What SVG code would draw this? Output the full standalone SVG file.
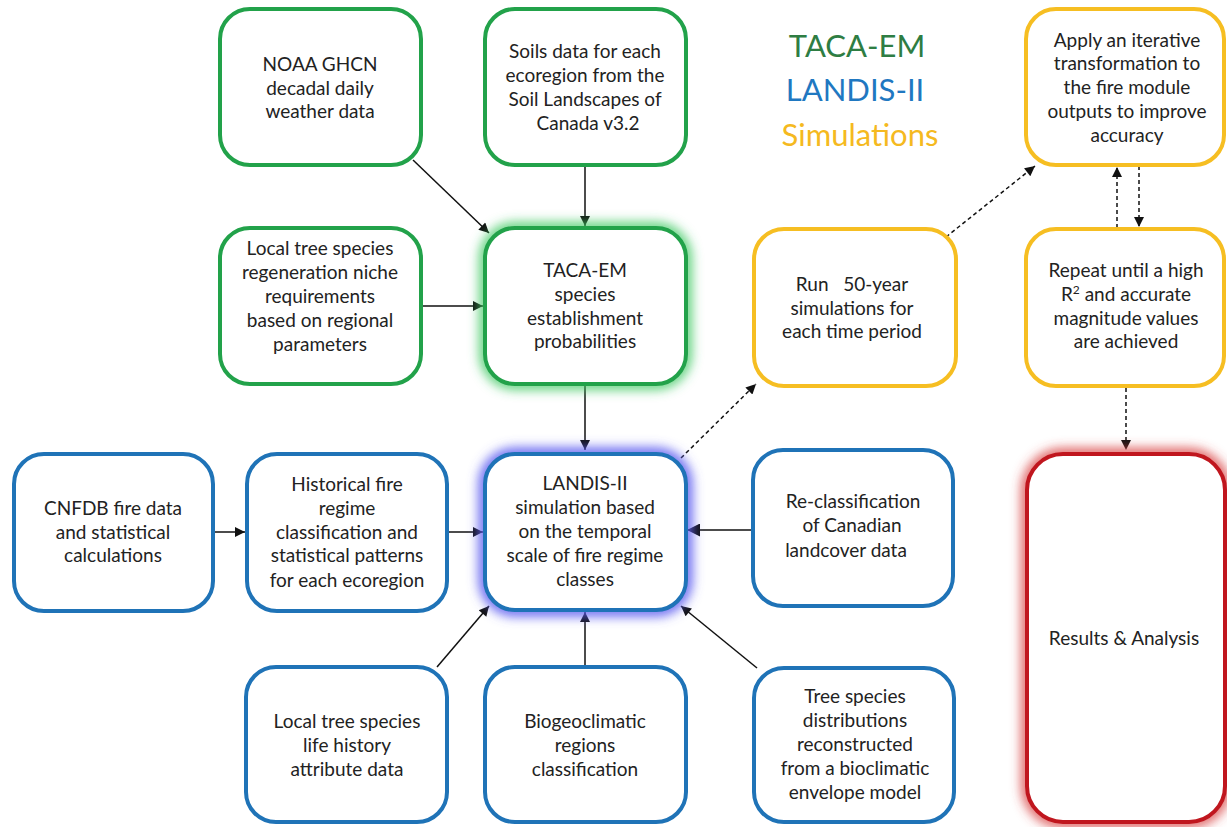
<svg xmlns="http://www.w3.org/2000/svg" width="1227" height="827" viewBox="0 0 1227 827">
<defs>
<style>
.box{fill:#fff;stroke-width:4}
.g{stroke:#22a24a}
.b{stroke:#1f73b7}
.y{stroke:#f6be22}
.r{stroke:#c0161e}
.t{font-family:Lato,"Liberation Sans",sans-serif;font-size:19px;fill:#222;text-anchor:middle}
.c{stroke:#111;stroke-width:1.5;fill:none}
.d{stroke:#111;stroke-width:1.5;fill:none;stroke-dasharray:4 3}
.title{font-family:Lato,"Liberation Sans",sans-serif;font-size:31px;text-anchor:middle}
</style>
<filter id="glow" x="-25%" y="-25%" width="150%" height="150%"><feGaussianBlur stdDeviation="6"/></filter>
<marker id="ah" viewBox="0 0 10 10" refX="10" refY="5" markerWidth="12" markerHeight="10" markerUnits="userSpaceOnUse" orient="auto"><path d="M0,0 L10,5 L0,10 z" fill="#111"/></marker>
<marker id="ahb" viewBox="0 0 10 10" refX="10" refY="5" markerWidth="15" markerHeight="13" markerUnits="userSpaceOnUse" orient="auto"><path d="M0,0 L10,5 L0,10 z" fill="#111"/></marker>
</defs>
<rect width="1227" height="827" fill="#fff"/>

<g id="title">
<text class="title" x="857" y="57" fill="#2e7d43">TACA-EM</text>
<text class="title" x="855" y="101" fill="#1f78c1">LANDIS-II</text>
<text class="title" x="860" y="146" fill="#f5b920">Simulations</text>
</g>

<g id="connectors">
<line class="c" x1="413" y1="160" x2="489" y2="233" marker-end="url(#ah)"/>
<line class="c" x1="585" y1="166" x2="585" y2="226" marker-end="url(#ah)"/>
<line class="c" x1="421" y1="306" x2="483" y2="306" marker-end="url(#ah)"/>
<line class="c" x1="585" y1="386" x2="585" y2="450" marker-end="url(#ah)"/>
<line class="c" x1="213" y1="532" x2="245" y2="532" marker-end="url(#ah)"/>
<line class="c" x1="447" y1="532" x2="483" y2="532" marker-end="url(#ah)"/>
<line class="c" x1="752" y1="530" x2="687" y2="530" stroke-width="2.5" marker-end="url(#ahb)"/>
<line class="c" x1="437" y1="667" x2="489" y2="606" marker-end="url(#ah)"/>
<line class="c" x1="585" y1="666" x2="585" y2="612" marker-end="url(#ah)"/>
<line class="c" x1="757" y1="668" x2="681" y2="606" marker-end="url(#ah)"/>
<line class="d" x1="681" y1="458" x2="756" y2="384" marker-end="url(#ah)"/>
<line class="d" x1="946" y1="237" x2="1035" y2="166" marker-end="url(#ah)"/>
<line class="d" x1="1117" y1="228" x2="1117" y2="167" marker-end="url(#ah)"/>
<line class="d" x1="1139" y1="166" x2="1139" y2="227" marker-end="url(#ah)"/>
<line class="d" x1="1126" y1="388" x2="1126" y2="450" marker-end="url(#ah)"/>
</g>

<g id="n-noaa">
<rect class="box g" x="220" y="9" width="201" height="156" rx="30"/>
<text class="t" x="320" y="71">NOAA GHCN</text>
<text class="t" x="320" y="95">decadal daily</text>
<text class="t" x="320" y="118">weather data</text>
</g>

<g id="n-soils">
<rect class="box g" x="485" y="9" width="201" height="156" rx="30"/>
<text class="t" x="585" y="58">Soils data for each</text>
<text class="t" x="585" y="82">ecoregion from the</text>
<text class="t" x="585" y="106">Soil Landscapes of</text>
<text class="t" x="588" y="130">Canada v3.2</text>
</g>

<g id="n-regen">
<rect class="box g" x="220" y="228" width="201" height="156" rx="30"/>
<text class="t" x="320" y="255">Local tree species</text>
<text class="t" x="320" y="279">regeneration niche</text>
<text class="t" x="320" y="303">requirements</text>
<text class="t" x="320" y="327">based on regional</text>
<text class="t" x="320" y="351">parameters</text>
</g>

<g id="n-taca">
<rect x="485" y="228" width="201" height="156" rx="30" fill="none" stroke="#3cc860" stroke-width="10" filter="url(#glow)"/>
<rect class="box g" x="485" y="228" width="201" height="156" rx="30"/>
<text class="t" x="585" y="277">TACA-EM</text>
<text class="t" x="585" y="301">species</text>
<text class="t" x="585" y="325">establishment</text>
<text class="t" x="585" y="348">probabilities</text>
</g>

<g id="n-run">
<rect class="box y" x="754" y="229" width="202" height="157" rx="30"/>
<text class="t" x="852" y="291" xml:space="preserve">Run   50-year</text>
<text class="t" x="852" y="315">simulations for</text>
<text class="t" x="852" y="338">each time period</text>
</g>

<g id="n-apply">
<rect class="box y" x="1026" y="9" width="198" height="156" rx="30"/>
<text class="t" x="1127" y="47">Apply an iterative</text>
<text class="t" x="1127" y="70">transformation to</text>
<text class="t" x="1127" y="94">the fire module</text>
<text class="t" x="1127" y="118">outputs to improve</text>
<text class="t" x="1127" y="142">accuracy</text>
</g>

<g id="n-repeat">
<rect class="box y" x="1026" y="229" width="198" height="157" rx="30"/>
<text class="t" x="1126" y="277">Repeat until a high</text>
<text class="t" x="1126" y="301">R<tspan font-size="12" dy="-7">2</tspan><tspan dy="7"> and accurate</tspan></text>
<text class="t" x="1126" y="325">magnitude values</text>
<text class="t" x="1126" y="348">are achieved</text>
</g>

<g id="n-cnfdb">
<rect class="box b" x="14" y="454" width="199" height="157" rx="30"/>
<text class="t" x="113" y="515">CNFDB fire data</text>
<text class="t" x="113" y="539">and statistical</text>
<text class="t" x="113" y="562">calculations</text>
</g>

<g id="n-hist">
<rect class="box b" x="247" y="454" width="200" height="157" rx="30"/>
<text class="t" x="347" y="491">Historical fire</text>
<text class="t" x="347" y="515">regime</text>
<text class="t" x="347" y="539">classification and</text>
<text class="t" x="347" y="562">statistical patterns</text>
<text class="t" x="347" y="587">for each ecoregion</text>
</g>

<g id="n-landis">
<rect x="485" y="454" width="201" height="156" rx="30" fill="none" stroke="#5c5cf0" stroke-width="12" filter="url(#glow)"/>
<rect class="box b" x="485" y="454" width="201" height="156" rx="30"/>
<text class="t" x="585" y="490">LANDIS-II</text>
<text class="t" x="585" y="514">simulation based</text>
<text class="t" x="585" y="538">on the temporal</text>
<text class="t" x="585" y="562">scale of fire regime</text>
<text class="t" x="585" y="586">classes</text>
</g>

<g id="n-reclass">
<rect class="box b" x="753" y="450" width="200" height="156" rx="30"/>
<text class="t" x="853" y="508">Re-classification</text>
<text class="t" x="852" y="532">of Canadian</text>
<text class="t" x="846" y="557">landcover data</text>
</g>

<g id="n-results">
<rect x="1027" y="454" width="198" height="368" rx="36" fill="none" stroke="#d84040" stroke-width="10" filter="url(#glow)"/>
<rect class="box r" x="1027" y="454" width="198" height="368" rx="36"/>
<text class="t" x="1124" y="645">Results &amp; Analysis</text>
</g>

<g id="n-life">
<rect class="box b" x="246" y="667" width="201" height="155" rx="30"/>
<text class="t" x="347" y="728">Local tree species</text>
<text class="t" x="347" y="752">life history</text>
<text class="t" x="347" y="776">attribute data</text>
</g>

<g id="n-bgc">
<rect class="box b" x="485" y="667" width="201" height="155" rx="30"/>
<text class="t" x="585" y="728">Biogeoclimatic</text>
<text class="t" x="585" y="752">regions</text>
<text class="t" x="585" y="776">classification</text>
</g>

<g id="n-treedist">
<rect class="box b" x="754" y="668" width="200" height="154" rx="30"/>
<text class="t" x="855" y="703">Tree species</text>
<text class="t" x="855" y="727">distributions</text>
<text class="t" x="855" y="751">reconstructed</text>
<text class="t" x="855" y="775">from a bioclimatic</text>
<text class="t" x="855" y="799">envelope model</text>
</g>
</svg>
